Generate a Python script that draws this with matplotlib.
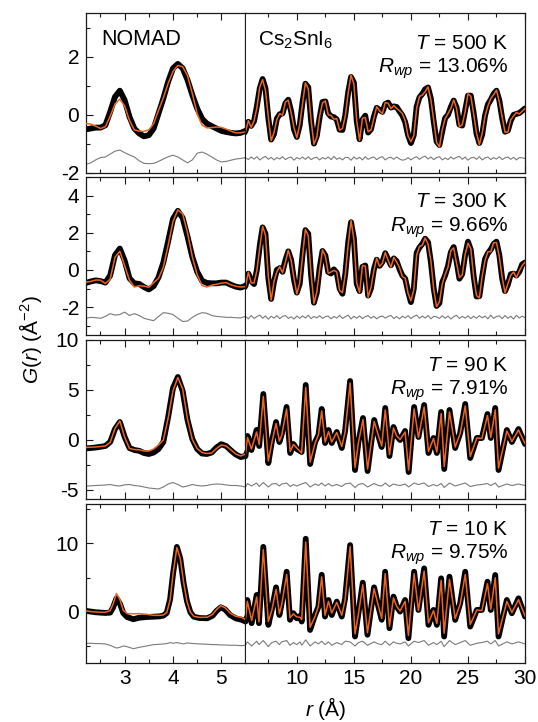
import numpy as np
import matplotlib
matplotlib.use("Agg")
import matplotlib.pyplot as plt
from matplotlib.ticker import MultipleLocator

plt.rcParams.update({
    "font.family": ["Liberation Sans", "DejaVu Sans"],
    "mathtext.fontset": "custom",
    "mathtext.rm": "Liberation Sans",
    "mathtext.it": "Liberation Sans:italic",
    "mathtext.bf": "Liberation Sans:bold",
    "axes.unicode_minus": False,
})

# ---------------------------------------------------------------- data
R_LOCAL = np.round(np.arange(2.2, 5.45, 0.1), 2)     # 2.2 ... 5.4 A
R_WIDE = np.round(np.arange(5.5, 30.001, 0.25), 2)   # 5.5 ... 30 A

# T = 500 K
r_500 = np.concatenate([R_LOCAL, R_WIDE])
g_obs_500 = [
    -0.5, -0.47, -0.44, -0.44, -0.36, 0.1, 0.62, 0.83, 0.5, -0.07,
    -0.47, -0.64, -0.74, -0.7, -0.47, 0.05, 0.56, 1.14, 1.6, 1.75,
    1.6, 1.2, 0.68, 0.22, -0.13, -0.3, -0.39, -0.47, -0.55, -0.59,
    -0.62, -0.64, -0.62,
    -0.55, -0.24, -0.38, -0.22, 0.30, 0.91, 1.23, 0.91, -0.11, -0.85,
    -0.66, -0.13, 0.02, 0.05, 0.4, 0.52, 0.12, -0.5, -0.76, -0.36,
    0.44, 1.07, 0.95, -0.22, -0.99, -0.73, -0.09, 0.44, 0.46, 0.05,
    -0.06, -0.08, -0.16, -0.51, -0.52, 0.0, 0.78, 1.3, 1.11, -0.22,
    -0.84, -0.17, -0.03, -0.61, -0.5, -0.07, 0.24, 0.17, 0.1, 0.37,
    0.42, 0.25, 0.29, 0.27, 0.12, -0.02, -0.25, -0.7, -0.97, -0.7,
    0.28, 0.6, 0.72, 0.88, 0.94, 0.56, -0.23, -0.92, -1.04, -0.56,
    -0.11, 0.0, 0.27, 0.49, 0.26, -0.34, -0.37, 0.15, 0.66, 0.66,
    0.07, -0.65, -0.97, -0.68, -0.02, 0.36, 0.52, 0.72, 0.83, 0.5,
    -0.12, -0.58, -0.54, -0.2, 0.0, 0.03, 0.06, 0.14, 0.22,
]
g_diff_500 = [
    -0.2, -0.15, -0.05, 0.03, 0.05, 0.15, 0.25, 0.29, 0.2, 0.12,
    0.05, -0.08, -0.17, -0.18, -0.17, -0.1, -0.02, 0.06, 0.11, 0.05,
    -0.05, -0.15, -0.05, 0.18, 0.22, 0.15, 0.05, -0.05, -0.12, -0.1,
    -0.06, -0.02, 0.0,
    0.03, -0.04, 0.05, -0.02, 0.06, -0.05, 0.02, 0.07, -0.03, 0.04,
    -0.05, 0.03, -0.02, 0.06, -0.04, 0.02, 0.05, -0.06, 0.03, -0.02,
    0.05, -0.03, 0.06, -0.04, 0.02, 0.04, -0.05, 0.03, -0.02, 0.05,
    -0.04, 0.07, -0.03, 0.02, -0.05, 0.04, 0.03, -0.06, 0.05, -0.02,
    0.04, -0.05, 0.06, -0.03, 0.02, 0.05, -0.04, 0.03, 0.06, -0.05,
    0.02, 0.04, -0.03, 0.05, -0.02, -0.06, -0.04, 0.03, -0.05, 0.02,
    0.06, -0.03, 0.04, 0.08, -0.02, 0.05, -0.04, 0.03, 0.06, -0.05,
    0.02, -0.04, 0.05, -0.02, 0.04, 0.07, -0.03, 0.05, -0.06, 0.02,
    0.04, -0.03, 0.06, -0.05, 0.02, 0.05, -0.04, 0.03, -0.02, 0.06,
    -0.04, 0.02, 0.05, -0.03, 0.04, -0.05, 0.03, 0.02, 0.0,
]

# T = 300 K
r_300 = np.concatenate([R_LOCAL, R_WIDE])
g_obs_300 = [
    -0.7, -0.62, -0.56, -0.6, -0.68, -0.3, 0.8, 1.15, 0.5, -0.45,
    -0.72, -0.75, -0.92, -1.05, -0.87, -0.4, 0.4, 1.55, 2.75, 3.18,
    2.8, 1.8, 0.7, -0.1, -0.58, -0.7, -0.72, -0.72, -0.68, -0.68,
    -0.8, -0.9, -0.95,
    -0.85, -0.2, -0.6, -0.76, 0.02, 1.31, 2.29, 1.95, -0.44, -1.56,
    -0.64, 0.0, 0.1, -0.1, 0.53, 1.0, 0.54, -0.53, -1.22, -0.75,
    0.84, 2.14, 1.95, -0.28, -1.76, -1.22, 0.11, 1.02, 0.78, -0.11,
    -0.19, 0.03, -0.15, -1.0, -1.28, -0.2, 1.48, 2.57, 1.7, -0.75,
    -1.14, 0.17, 0.24, -1.38, -0.99, 0.01, 0.55, 0.22, 0.43, 0.9,
    0.57, 0.25, 0.62, 0.47, 0.04, -0.3, -0.47, -1.16, -1.73, -1.02,
    0.92, 1.21, 1.4, 1.68, 1.49, 0.42, -1.0, -1.94, -1.78, -0.66,
    -0.29, 0.22, 0.95, 1.23, 0.47, -0.47, -0.22, 0.79, 1.52, 1.08,
    -0.33, -1.43, -1.41, -0.35, 0.59, 0.9, 1.1, 1.4, 1.52, 0.8,
    -0.47, -1.14, -0.79, -0.23, -0.2, -0.3, -0.1, 0.3, 0.4,
]
g_diff_300 = [
    -0.05, 0.0, -0.02, -0.05, 0.05, 0.2, 0.12, 0.15, 0.28, 0.1,
    0.2, 0.1, -0.05, -0.12, -0.18, 0.05, 0.25, 0.22, 0.15, -0.05,
    -0.22, -0.2, 0.0, 0.15, 0.25, 0.22, 0.1, 0.05, 0.03, 0.0,
    0.0, -0.02, -0.03,
    0.05, -0.08, 0.1, -0.06, 0.04, 0.12, -0.05, 0.08, -0.1, 0.06,
    -0.04, 0.09, -0.07, 0.05, 0.1, -0.06, 0.03, -0.09, 0.07, -0.05,
    0.08, -0.04, 0.11, -0.07, 0.05, -0.03, 0.09, -0.06, 0.04, 0.07,
    -0.08, 0.05, -0.04, 0.1, -0.06, 0.03, 0.12, -0.09, 0.06, -0.05,
    0.08, -0.07, 0.04, 0.09, -0.05, 0.06, -0.08, 0.03, 0.07, -0.04,
    0.05, 0.1, -0.06, 0.04, -0.08, 0.06, -0.03, 0.09, -0.07, 0.05,
    0.12, -0.05, 0.07, -0.04, 0.1, -0.08, 0.05, 0.03, -0.06, 0.09,
    -0.05, 0.07, -0.09, 0.04, 0.11, -0.06, 0.05, -0.04, 0.08, -0.07,
    0.06, -0.05, 0.09, -0.03, 0.07, -0.08, 0.12, -0.06, 0.05, 0.08,
    -0.07, 0.1, -0.05, 0.06, -0.09, 0.11, -0.04, 0.07, -0.02,
]

# T = 90 K
r_90 = np.concatenate([R_LOCAL, [
    5.5, 5.68, 6.02, 6.47, 6.7, 7.06, 7.5, 7.82, 8.18, 8.47,
    8.68, 9.1, 9.42, 9.7, 10.0, 10.42, 10.78, 11.17, 11.6, 11.9,
    12.18, 12.48, 12.78, 13.06, 13.5, 13.94, 14.23, 14.67, 15.1, 15.4,
    15.8, 16.2, 16.78, 17.15, 17.44, 17.75, 18.12, 18.47, 18.76, 19.05,
    19.49, 19.8, 20.28, 20.66, 21.16, 21.54, 21.98, 22.27, 22.65, 22.92,
    23.38, 23.88, 24.32, 24.76, 25.2, 25.78, 26.22, 26.71, 27.0, 27.39,
    27.68, 28.41, 28.85, 29.43, 30.0,
]])
g_obs_90 = [
    -0.84, -0.8, -0.75, -0.68, -0.6, -0.2, 1.1, 1.8, 0.3, -0.8,
    -1.0, -1.08, -1.3, -1.4, -1.25, -0.9, -0.2, 2.3, 5.2, 6.3,
    4.9, 2.0, 0.1, -0.9, -1.35, -1.4, -1.25, -0.75, -0.42, -0.6,
    -1.05, -1.45, -1.7,
    -1.6, 0.4, -1.0, 1.0, -0.6, 4.6, -2.3, -0.1, 1.8, -0.2,
    0.6, 3.3, -1.3, -0.4, -0.9, -1.2, 5.5, -2.4, -0.2, 0.5,
    3.1, -0.3, 1.0, -0.3, 0.8, -0.8, 0.9, 5.9, -3.0, -0.2,
    2.2, -3.1, 2.0, 0.4, -0.7, 3.2, -1.6, 1.3, 0.4, 0.0,
    0.9, -3.2, 3.3, 0.3, 3.5, -1.3, 0.2, -1.3, 2.8, -2.9,
    3.0, -0.8, 0.7, 3.6, -1.8, 0.2, 0.2, 2.6, 0.2, 3.2,
    -3.0, 1.0, -0.2, 1.1, -0.4,
]
g_diff_90 = [
    -0.1, -0.08, -0.05, -0.03, 0.0, 0.05, -0.05, -0.1, 0.02, 0.05,
    -0.05, -0.1, -0.2, -0.3, -0.35, -0.4, -0.2, 0.1, 0.25, 0.05,
    -0.2, -0.1, 0.05, -0.05, -0.1, -0.05, 0.05, 0.1, 0.08, 0.0,
    -0.05, -0.05, -0.1,
    -0.2, 0.15, -0.1, 0.2, -0.15, 0.25, -0.2, 0.1, 0.15, -0.1,
    0.1, 0.2, -0.15, 0.05, -0.1, 0.1, 0.25, -0.2, 0.1, -0.05,
    0.2, -0.1, 0.15, -0.1, 0.05, -0.15, 0.1, 0.2, -0.25, 0.05,
    0.15, -0.2, 0.15, -0.05, -0.1, 0.2, -0.15, 0.1, 0.0, -0.05,
    0.1, -0.2, 0.2, 0.05, 0.2, -0.15, 0.05, -0.1, 0.15, -0.25,
    0.2, -0.1, 0.05, 0.2, -0.15, 0.0, 0.05, 0.15, -0.05, 0.2,
    -0.2, 0.1, -0.05, 0.1, -0.05,
]

# T = 10 K
r_10 = [
    2.2, 2.3, 2.4, 2.5, 2.6, 2.7, 2.76, 2.83, 2.9, 2.97,
    3.05, 3.18, 3.3, 3.45, 3.6, 3.72, 3.8, 3.87, 3.94, 4.0,
    4.08, 4.15, 4.22, 4.29, 4.36, 4.43, 4.55, 4.71, 4.82, 4.9,
    4.99, 5.08, 5.18, 5.3, 5.42,
    5.5, 5.66, 6.04, 6.48, 6.68, 7.06, 7.5, 7.8, 8.18, 8.47,
    8.67, 9.11, 9.4, 9.7, 9.99, 10.28, 10.43, 10.78, 11.16, 11.6,
    11.89, 12.18, 12.47, 12.77, 13.06, 13.5, 13.94, 14.23, 14.67, 15.1,
    15.4, 15.78, 16.19, 16.77, 17.15, 17.44, 17.74, 18.12, 18.47, 18.76,
    19.05, 19.49, 19.78, 20.28, 20.66, 21.16, 21.54, 21.98, 22.27, 22.65,
    22.91, 23.38, 23.88, 24.32, 24.76, 25.2, 25.78, 26.22, 26.71, 27.0,
    27.39, 27.68, 28.41, 28.85, 29.43, 30.0,
]
g_obs_10 = [
    0.1, 0.0, -0.1, -0.15, -0.2, -0.15, 0.6, 1.95, 1.2, -0.2,
    -0.8, -1.12, -0.9, -0.8, -0.75, -0.7, -0.6, -0.2, 1.8, 5.5,
    9.5, 7.8, 4.2, 1.5, -0.1, -0.75, -0.95, -0.98, -0.6, 0.1,
    0.63, 0.3, -0.5, -1.0, -1.2,
    -1.46, 1.7, -1.7, 2.44, -1.7, 9.5, -1.95, 0.24, 3.56, -0.5,
    1.2, 5.85, -1.2, -0.24, -0.98, -0.63, -1.46, 10.7, -2.7, -0.5,
    0.7, 5.4, -0.73, 1.7, -0.5, 1.46, -0.73, 1.95, 9.76, -3.66,
    -0.24, 4.24, -3.4, 3.56, 0.73, -1.2, 5.85, -2.44, 2.2, 0.73,
    0.0, 1.7, -3.9, 5.85, 0.24, 6.34, -1.95, 0.24, -1.95, 4.88,
    -3.66, 5.12, -1.22, 1.22, 5.85, -2.2, 0.24, 0.24, 4.39, 0.24,
    5.37, -3.66, 1.7, -0.24, 1.95, -0.73,
]
g_diff_10 = [
    0.0, 0.0, -0.05, -0.05, -0.1, -0.3, -0.5, -0.7, -0.6, -0.4,
    -0.5, -0.8, -0.6, -0.4, -0.2, -0.15, -0.1, -0.05, 0.1, 0.0,
    0.1, 0.0, -0.1, 0.05, 0.0, -0.05, -0.1, -0.15, -0.2, -0.2,
    -0.25, -0.25, -0.3, -0.3, -0.35,
    -0.3, 0.2, -0.4, 0.3, -0.2, 0.4, -0.5, 0.1, 0.3, -0.2,
    0.2, 0.4, -0.3, 0.1, -0.2, 0.2, -0.3, 0.5, -0.4, 0.2,
    -0.1, 0.3, -0.2, 0.2, -0.3, 0.1, -0.2, 0.3, 0.2, -0.4,
    0.1, 0.3, -0.3, 0.2, -0.1, -0.2, 0.3, -0.3, 0.2, 0.0,
    -0.1, 0.2, -0.4, 0.3, 0.1, 0.4, -0.3, 0.1, -0.2, 0.3,
    -0.5, 0.4, -0.2, 0.1, 0.4, -0.3, 0.0, 0.1, 0.3, -0.1,
    0.4, -0.4, 0.2, -0.1, 0.2, -0.1,
]

temperatures = ["500", "300", "90", "10"]
rwp_values = ["13.06", "9.66", "7.91", "9.75"]
diff_baselines = [-1.5, -2.55, -4.5, -4.65]

series = [
    (r_500, g_obs_500, g_diff_500),
    (r_300, g_obs_300, g_diff_300),
    (r_90, g_obs_90, g_diff_90),
    (r_10, g_obs_10, g_diff_10),
]

# ---------------------------------------------------------------- layout
W, H = 538, 722
fig = plt.figure(figsize=(W / 100, H / 100), dpi=100)

x_left, x_split, x_right = 86, 245.5, 525
row_px = [(13, 173), (177, 335), (340, 499), (504, 663)]
y_limits = [(-2.0, 3.5), (-3.5, 5.0), (-5.9, 10.0), (-7.55, 15.8)]
y_major = [2, 2, 5, 10]
y_minor = [1, 1, 2.5, 5]
label_drop = [(36, 59.7), (30.3, 54.7), (31, 55), (31, 55)]  # px below the top

ORANGE = "#ee6420"
FS = 15


def style(ax, is_left, bottom_row):
    for sp in ax.spines.values():
        sp.set_linewidth(0.9)
        sp.set_color("#1a1a1a")
    ax.tick_params(which="both", direction="in", top=True, bottom=True,
                   right=False, left=is_left, labelleft=is_left,
                   labelbottom=bottom_row, labelsize=FS, width=0.8,
                   color="#1a1a1a")
    ax.tick_params(which="major", length=4.8)
    ax.tick_params(which="minor", length=2.6)
    ax.tick_params(axis="y", pad=5.0)
    ax.tick_params(axis="x", pad=4.0)


for i, ((top, bot), (r, obs, diff)) in enumerate(zip(row_px, series)):
    r = np.asarray(r, float)
    obs = np.asarray(obs, float)
    diff = np.asarray(diff, float)
    if not (len(r) == len(obs) == len(diff)):
        raise ValueError(f"row {i}: {len(r)} {len(obs)} {len(diff)}")
    calc = obs - diff

    y0 = 1 - bot / H
    hh = (bot - top) / H
    axl = fig.add_axes([x_left / W, y0, (x_split - x_left) / W, hh])
    axr = fig.add_axes([x_split / W, y0, (x_right - x_split) / W, hh])
    bottom_row = i == len(row_px) - 1

    for ax, xlim in ((axl, (2.2, 5.5)), (axr, (5.5, 30.0))):
        ax.plot(r, obs, color="black", lw=4.2, solid_joinstyle="round",
                solid_capstyle="round", zorder=2)
        ax.plot(r, calc, color=ORANGE, lw=1.1, zorder=3)
        ax.plot(r, diff + diff_baselines[i], color="#7a7a7a", lw=0.8,
                zorder=2)
        ax.set_xlim(*xlim)
        ax.set_ylim(*y_limits[i])

    axl.xaxis.set_major_locator(MultipleLocator(1))
    axl.xaxis.set_minor_locator(MultipleLocator(0.5))
    axr.xaxis.set_major_locator(MultipleLocator(5))
    axr.xaxis.set_minor_locator(MultipleLocator(2.5))
    for ax in (axl, axr):
        ax.yaxis.set_major_locator(MultipleLocator(y_major[i]))
        ax.yaxis.set_minor_locator(MultipleLocator(y_minor[i]))
    style(axl, True, bottom_row)
    style(axr, False, bottom_row)
    axr.tick_params(axis="y", which="both", left=False, right=False)
    axr.spines["left"].set_visible(False)

    dt, dr = label_drop[i]
    axr.annotate(f"$T$ = {temperatures[i]} K", xy=(1, 1),
                 xycoords="axes fraction", xytext=(-12, -dt * 0.72),
                 textcoords="offset points", ha="right", va="baseline",
                 fontsize=FS)
    axr.annotate(f"$R_{{wp}}$ = {rwp_values[i]}%", xy=(1, 1),
                 xycoords="axes fraction", xytext=(-12, -dr * 0.72),
                 textcoords="offset points", ha="right", va="baseline",
                 fontsize=FS)

    if i == 0:
        axl.annotate("NOMAD", xy=(0, 1), xycoords="axes fraction",
                     xytext=(11.3, -23), textcoords="offset points",
                     ha="left", va="baseline", fontsize=FS + 0.5)
        axr.annotate("Cs$_2$SnI$_6$", xy=(0, 1), xycoords="axes fraction",
                     xytext=(9.2, -23.8), textcoords="offset points",
                     ha="left", va="baseline", fontsize=FS)

fig.text(30 / W, 1 - 340 / H, "$G$($r$) (Å$^{-2}$)", rotation=90,
         ha="center", va="center", fontsize=FS)
fig.text(326 / W, 1 - 716 / H, "$r$ (Å)", ha="center", va="baseline",
         fontsize=FS)

fig.savefig("out.png", dpi=100)
